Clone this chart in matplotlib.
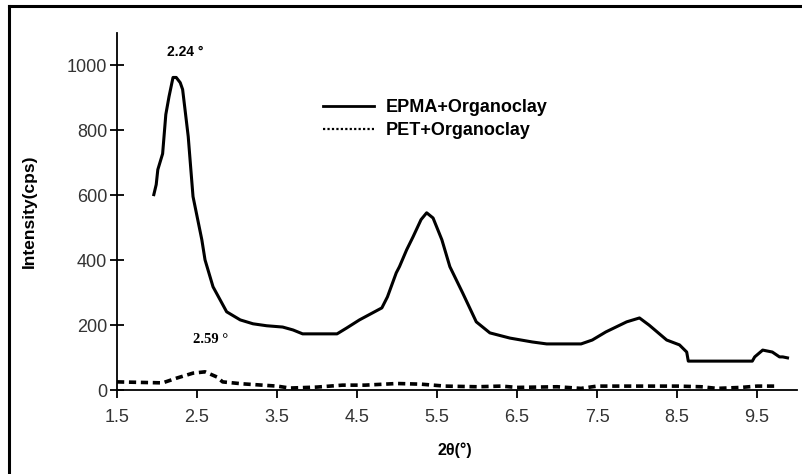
import numpy as np
import matplotlib
matplotlib.use('Agg')
import matplotlib.pyplot as plt
from matplotlib.lines import Line2D

plt.rcParams['font.family'] = ['Liberation Sans', 'DejaVu Sans']

# EPMA + organoclay (solid)
epma_x = [1.96, 1.99, 2.01, 2.07, 2.11, 2.15, 2.20, 2.24, 2.29, 2.32, 2.35, 2.39,
          2.42, 2.45, 2.56, 2.60, 2.70, 2.87, 3.04, 3.20, 3.37, 3.57, 3.70, 3.82,
          4.25, 4.37, 4.53, 4.81, 4.88, 4.99, 5.03, 5.12, 5.20, 5.30, 5.37, 5.45,
          5.56, 5.66, 5.82, 5.99, 6.16, 6.41, 6.69, 6.87, 7.30, 7.44, 7.61, 7.87,
          8.03, 8.15, 8.37, 8.53, 8.62, 8.64, 9.44, 9.47, 9.57, 9.69, 9.78, 9.82,
          9.88]
epma_y = [602, 633, 679, 728, 849, 904, 963, 963, 947, 926, 864, 781,
          688, 596, 463, 401, 318, 241, 216, 204, 198, 194, 185, 173,
          173, 191, 216, 253, 287, 361, 380, 432, 472, 525, 546, 530,
          463, 380, 299, 210, 176, 160, 148, 142, 142, 154, 179, 210,
          222, 200, 154, 139, 117, 89, 89, 102, 123, 117, 102, 102,
          99]

# PET + organoclay (dashed)
pet_x = [1.50, 2.07, 2.25, 2.45, 2.60, 2.75, 2.82, 3.07, 3.50, 3.66, 4.00, 4.32,
         4.60, 5.00, 5.30, 5.60, 6.00, 6.30, 6.50, 7.00, 7.30, 7.50, 8.00, 8.50,
         8.80, 9.00, 9.30, 9.50, 9.72]
pet_y = [25, 22, 37, 52, 56, 40, 25, 19, 12, 6, 9, 15,
         15, 20, 18, 12, 10, 12, 8, 10, 5, 12, 12, 12,
         10, 5, 8, 12, 12]

xticks = [1.5, 2.5, 3.5, 4.5, 5.5, 6.5, 7.5, 8.5, 9.5]
yticks = [0, 200, 400, 600, 800, 1000]

fig = plt.figure(figsize=(8.02, 4.74), dpi=100)
ax = fig.add_axes([0.1459, 0.1772, 0.848, 0.7532])

ax.plot(epma_x, epma_y, color='black', lw=2.2, solid_joinstyle='round')
ax.plot(pet_x, pet_y, color='black', lw=2.6, linestyle=(0, (2.0, 1.3)))

ax.set_xlim(1.5, 10.0)
ax.set_ylim(0, 1100)
ax.set_xticks(xticks)
ax.set_xticklabels([str(t) for t in xticks])
ax.set_yticks(yticks)

for s in ['top', 'right']:
    ax.spines[s].set_visible(False)
for s in ['left', 'bottom']:
    ax.spines[s].set_linewidth(1.3)
ax.tick_params(axis='x', direction='out', length=6, width=1.3, labelsize=13,
               labelcolor='#333333', pad=8)
ax.tick_params(axis='y', direction='inout', length=10, width=1.3, labelsize=13,
               labelcolor='#333333', pad=2)

ax.set_ylabel('Intensity(cps)', fontsize=12.5, fontweight='bold')
ax.yaxis.set_label_coords(-0.118, 0.5)
ax.set_xlabel('2θ(°)', fontsize=11.5, fontweight='bold')
ax.xaxis.set_label_coords(0.497, -0.148)

ax.text(2.35, 1040, '2.24 °', fontsize=10, fontweight='bold', ha='center', va='center')
ax.text(2.67, 155, '2.59 °', fontsize=10.5, fontweight='bold', ha='center', va='center',
        family='Liberation Serif')

handles = [Line2D([], [], color='black', lw=2.0),
           Line2D([], [], color='black', lw=1.6, linestyle=(0, (1, 1)))]
ax.legend(handles, ['EPMA+Organoclay', 'PET+Organoclay'], loc='upper left',
          bbox_to_anchor=(0.303, 0.815), frameon=False, handlelength=2.8,
          handletextpad=0.65, labelspacing=0.35, borderpad=0, borderaxespad=0,
          prop={'weight': 'bold', 'size': 13})

# outer frame (left and top edges only)
fig.add_artist(Line2D([9 / 802, 9 / 802], [0, 1 - 6 / 474], color='black', lw=2.2,
                      transform=fig.transFigure))
fig.add_artist(Line2D([9 / 802, 1], [1 - 6 / 474, 1 - 6 / 474], color='black', lw=2.2,
                      transform=fig.transFigure))

fig.savefig('out.png', dpi=100)
